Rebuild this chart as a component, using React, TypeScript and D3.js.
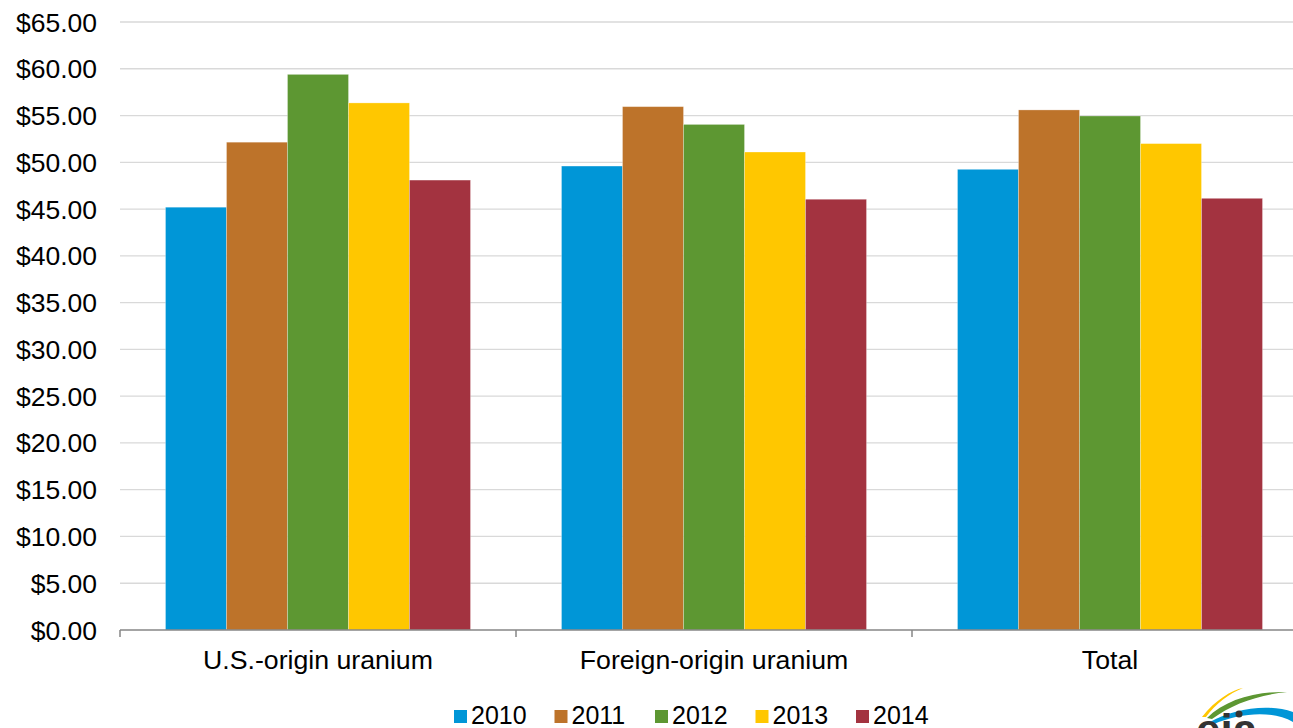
import { useMemo } from 'react'
import * as d3 from "d3"

const categories = ["U.S.-origin uranium", "Foreign-origin uranium", "Total"]
const years = ["2010", "2011", "2012", "2013", "2014"]
const values2010 = [45.2, 49.6, 49.25]
const values2011 = [52.15, 55.95, 55.6]
const values2012 = [59.4, 54.05, 54.95]
const values2013 = [56.35, 51.1, 52.0]
const values2014 = [48.1, 46.05, 46.15]
const yTicks = [0, 5, 10, 15, 20, 25, 30, 35, 40, 45, 50, 55, 60, 65]
const yearColors = ["#0096d7", "#bd732a", "#5d9732", "#ffc700", "#a33340"]

const seriesValues = [values2010, values2011, values2012, values2013, values2014]

function App() {
  const width = 1293
  const height = 728
  const margin = { left: 120, right: -15, top: 22, bottom: 98 }
  const font = "Arial, 'Liberation Sans', sans-serif"

  const x0 = useMemo(() => d3.scaleBand().domain(categories)
    .range([margin.left, width - margin.right]).padding(0), [])
  const x1 = useMemo(() => d3.scaleBand().domain(years)
    .range([0, x0.bandwidth()]).paddingInner(0).paddingOuter(0.746), [])
  const y = useMemo(() => d3.scaleLinear().domain([0, 65])
    .range([height - margin.bottom, margin.top]), [])

  const bars: any[] = []
  categories.forEach((cat, ci) => {
    years.forEach((yr, yi) => {
      bars.push({ cat, yr, yi, v: seriesValues[yi][ci] })
    })
  })

  const tickXs = [...categories.map(c => x0(c)), x0(categories[2]) + x0.bandwidth()]
  const legendX = d3.scalePoint().domain(years).range([454, 856])

  return (
    <svg width={width} height={height} style={{ position: 'absolute', left: 0, top: 0 }}>
      <rect width={width} height={height} fill="white" />
      {/* gridlines */}
      {yTicks.slice(1).map(t => (
        <line key={'g' + t} x1={margin.left} x2={width} y1={y(t)} y2={y(t)}
          stroke="#d9d9d9" strokeWidth={1.3} />
      ))}
      {/* y labels */}
      {yTicks.map(t => (
        <text key={'t' + t} x={97} y={y(t)} dy="0.36em" textAnchor="end"
          fontFamily={font} fontSize={26.5} fill="#000">{d3.format("$.2f")(t)}</text>
      ))}
      {/* bars */}
      {bars.map(b => (
        <rect key={b.cat + b.yr} x={x0(b.cat) + x1(b.yr)} y={y(b.v)}
          width={x1.bandwidth()} height={y(0) - y(b.v)}
          fill={yearColors[b.yi]} stroke="#ffffff" strokeOpacity={0.35} strokeWidth={0.8} />
      ))}
      {/* x axis */}
      <line x1={margin.left} x2={width} y1={y(0)} y2={y(0)} stroke="#868686" strokeWidth={1.5} />
      {tickXs.map((tx, i) => (
        <line key={'k' + i} x1={tx} x2={tx} y1={y(0)} y2={y(0) + 7} stroke="#868686" strokeWidth={1.5} />
      ))}
      {categories.map(c => (
        <text key={c} x={x0(c) + x0.bandwidth() / 2} y={669} textAnchor="middle"
          fontFamily={font} fontSize={26.7} fill="#000">{c}</text>
      ))}
      {/* legend */}
      {years.map((yr, i) => (
        <g key={'l' + yr} transform={`translate(${legendX(yr)},0)`}>
          <rect x={0} y={710} width={13} height={13} fill={yearColors[i]} />
          <text x={17} y={724} fontFamily={font} fontSize={25} fill="#000">{yr}</text>
        </g>
      ))}
      {/* eia logo (partial, cut by the frame as in the original) */}
      <g>
        <path d="M1202,717 C1215,700 1232,690 1243,688 C1230,693 1215,704 1206,717 Z" fill="#ffc700" />
        <path d="M1207,718 C1225,700 1255,691 1287,692 C1258,695 1232,704 1212,719 Z" fill="#5d9732" />
        <path d="M1210,722 C1232,709 1268,703 1293,712 L1293,722 C1272,710 1240,713 1214,724 Z" fill="#0096d7" />
        <circle cx={1239} cy={714} r={3.5} fill="#333" />
        <text x={1196} y={745} fontFamily={font} fontWeight="bold" fontSize={44} fill="#333">eia</text>
      </g>
    </svg>
  )
}

export default App
